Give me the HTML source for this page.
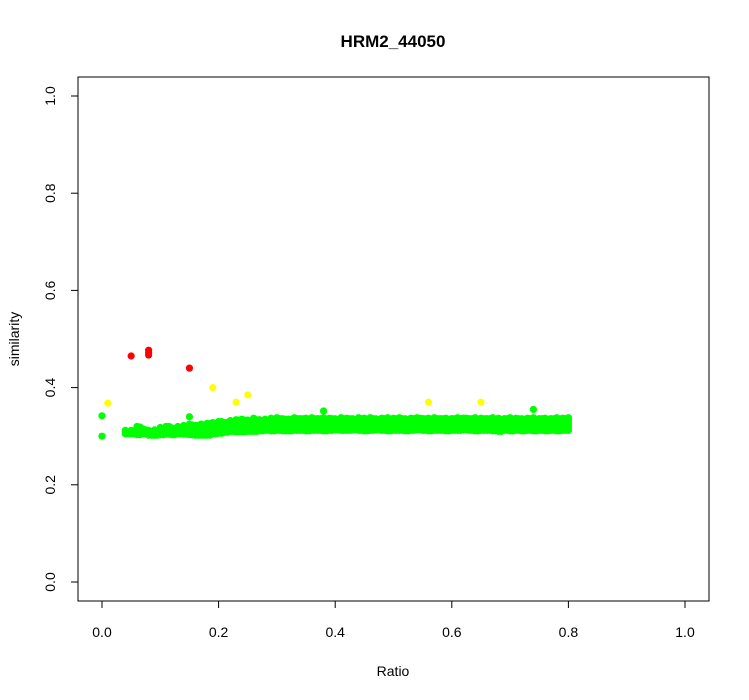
<!DOCTYPE html>
<html><head><meta charset="utf-8"><style>
body{margin:0;background:#fff;}
svg{display:block;font-family:"Liberation Sans",Arial,sans-serif;}
</style></head><body>
<svg id="chart" width="749" height="700">
<rect x="0" y="0" width="749" height="700" fill="#fff"/>
<text x="393" y="47" text-anchor="middle" font-size="17" font-weight="bold">HRM2_44050</text>
<rect x="78" y="77" width="631" height="524" fill="none" stroke="#000" stroke-width="1"/>
<g id="xaxis"></g>
<g id="yaxis"></g>
<text x="393" y="676" text-anchor="middle" font-size="14">Ratio</text>
<text transform="translate(19,339) rotate(-90)" text-anchor="middle" font-size="14">similarity</text>
<g id="points"></g>
</svg>
<script>
const xTicks=[0,0.2,0.4,0.6,0.8,1.0];
const xTickLabels=["0.0","0.2","0.4","0.6","0.8","1.0"];
const yTicks=[0,0.2,0.4,0.6,0.8,1.0];
const yTickLabels=["0.0","0.2","0.4","0.6","0.8","1.0"];
// green band: x grid and per-x bottom/top similarity
const bandX=[0.04,0.05,0.06,0.07,0.08,0.09,0.10,0.11,0.12,0.13,0.14,0.15,0.16,0.17,0.18,0.19,0.20,0.21,0.22,0.23,0.24,0.25,0.26,0.27,0.28,0.29,0.30,0.31,0.32,0.33,0.34,0.35,0.36,0.37,0.38,0.39,0.40,0.41,0.42,0.43,0.44,0.45,0.46,0.47,0.48,0.49,0.50,0.51,0.52,0.53,0.54,0.55,0.56,0.57,0.58,0.59,0.60,0.61,0.62,0.63,0.64,0.65,0.66,0.67,0.68,0.69,0.70,0.71,0.72,0.73,0.74,0.75,0.76,0.77,0.78,0.79,0.80];
const bandBottom=[0.305,0.305,0.303,0.305,0.302,0.302,0.303,0.304,0.303,0.305,0.304,0.303,0.302,0.302,0.302,0.305,0.306,0.308,0.310,0.309,0.309,0.310,0.310,0.311,0.312,0.311,0.312,0.311,0.311,0.312,0.312,0.311,0.312,0.312,0.311,0.312,0.313,0.312,0.312,0.313,0.312,0.311,0.312,0.313,0.312,0.311,0.312,0.312,0.311,0.312,0.313,0.312,0.311,0.312,0.312,0.311,0.312,0.312,0.313,0.312,0.311,0.312,0.312,0.311,0.310,0.312,0.311,0.312,0.311,0.312,0.311,0.312,0.311,0.312,0.311,0.312,0.312];
const bandTop=[0.312,0.312,0.320,0.315,0.312,0.313,0.318,0.320,0.317,0.318,0.322,0.325,0.322,0.325,0.326,0.328,0.330,0.328,0.332,0.334,0.335,0.333,0.337,0.334,0.335,0.337,0.338,0.336,0.335,0.338,0.336,0.337,0.338,0.336,0.338,0.337,0.336,0.338,0.337,0.336,0.338,0.337,0.338,0.336,0.337,0.338,0.337,0.338,0.336,0.337,0.338,0.336,0.337,0.338,0.336,0.337,0.336,0.338,0.337,0.336,0.338,0.337,0.336,0.338,0.337,0.336,0.338,0.337,0.336,0.337,0.338,0.336,0.337,0.336,0.338,0.337,0.338];
const greenX=[0,0,0.15,0.74,0.38,0.13];
const greenY=[0.300,0.342,0.340,0.355,0.352,0.320];
const yellowX=[0.01,0.19,0.23,0.25,0.56,0.65];
const yellowY=[0.368,0.400,0.370,0.385,0.370,0.370];
const redX=[0.05,0.08,0.08,0.08,0.15];
const redY=[0.465,0.467,0.472,0.477,0.440];

const sx=v=>102+v*583;
const sy=v=>582-v*486;
const NS="http://www.w3.org/2000/svg";
const xa=document.getElementById('xaxis'),ya=document.getElementById('yaxis'),pg=document.getElementById('points');
function mk(tag,attrs,parent){const e=document.createElementNS(NS,tag);for(const k in attrs)e.setAttribute(k,attrs[k]);parent.appendChild(e);return e;}
mk('line',{x1:sx(0),x2:sx(1),y1:601,y2:601,stroke:'#000'},xa);
xTicks.forEach((t,i)=>{
  const l=mk('line',{x1:sx(t),x2:sx(t),y1:601,y2:608,stroke:'#000'},xa);
  
  
  const tx=mk('text',{x:sx(t),y:637,'text-anchor':'middle','font-size':'14'},xa);
  
  
  tx.textContent=xTickLabels[i];
});
mk('line',{x1:78,x2:78,y1:sy(0),y2:sy(1),stroke:'#000'},ya);
yTicks.forEach((t,i)=>{
  const l=mk('line',{x1:71,x2:78,y1:sy(t),y2:sy(t),stroke:'#000'},ya);
  
  
  const tx=mk('text',{transform:`translate(55,${sy(t)}) rotate(-90)`,'text-anchor':'middle','font-size':'14'},ya);
  
  
  tx.textContent=yTickLabels[i];
});
function pt(x,y,c,name){
  const e=mk('circle',{cx:sx(x),cy:sy(y),r:3.6,fill:c},pg);
  
  
}
bandX.forEach((x,i)=>{
  for(let y=bandBottom[i];y<=bandTop[i]+1e-9;y+=0.004)pt(x,y,'#00ff00','green-point');
  pt(x,bandTop[i],'#00ff00','green-point');
  if(i<bandX.length-1){const xm=(x+bandX[i+1])/2;for(let y=bandBottom[i];y<=bandTop[i]+1e-9;y+=0.004)pt(xm,y,'#00ff00','green-point');}
});
greenX.forEach((x,i)=>pt(x,greenY[i],'#00ff00','green-point'));
yellowX.forEach((x,i)=>pt(x,yellowY[i],'#ffff00','yellow-point'));
redX.forEach((x,i)=>pt(x,redY[i],'#ff0000','red-point'));
</script>
</body></html>
